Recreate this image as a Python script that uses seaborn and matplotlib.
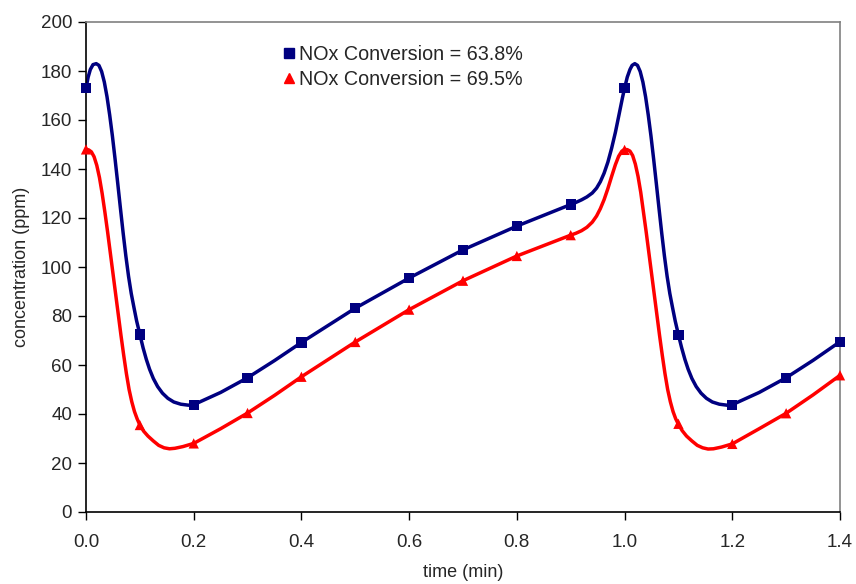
import matplotlib
matplotlib.use("Agg")
import matplotlib.pyplot as plt
from matplotlib.lines import Line2D
import numpy as np
import pandas as pd
import seaborn as sns

# Sampled time points (min) with measured concentration markers
t_marks = [0.0, 0.1, 0.2, 0.3, 0.4, 0.5, 0.6, 0.7, 0.8, 0.9, 1.0, 1.1, 1.2, 1.3, 1.4]
nox_638_marks = [173, 72.5, 43.8, 54.8, 69.2, 83.2, 95.5, 107, 116.7, 125.5,
                 173, 72.3, 43.8, 54.8, 69.5]
nox_695_marks = [148, 35.5, 28, 40.4, 55.2, 69.4, 82.6, 94.4, 104.5, 113,
                 147.8, 36, 27.8, 40.3, 55.8]

# Continuous concentration traces
t_638 = [0.000, 0.004, 0.008, 0.013, 0.019, 0.024, 0.029, 0.034, 0.039, 0.044,
         0.049, 0.054, 0.059, 0.064, 0.069, 0.074, 0.079, 0.084, 0.089, 0.094,
         0.100, 0.106, 0.112, 0.118, 0.125, 0.133, 0.142, 0.152, 0.163, 0.176,
         0.190, 0.200, 0.250, 0.300, 0.350, 0.400, 0.500, 0.600, 0.700, 0.800,
         0.900, 0.910, 0.920, 0.930, 0.940, 0.948, 0.955, 0.962, 0.969, 0.976,
         0.983, 0.990, 0.996, 1.000, 1.005, 1.010, 1.014, 1.019, 1.024, 1.029,
         1.034, 1.039, 1.044, 1.049, 1.054, 1.059, 1.064, 1.069, 1.074, 1.079,
         1.084, 1.089, 1.094, 1.100, 1.106, 1.112, 1.118, 1.125, 1.133, 1.142,
         1.152, 1.163, 1.176, 1.190, 1.200, 1.250, 1.300, 1.350, 1.400]
c_638 = [173, 177.5, 180.6, 182.6, 183, 182.3, 179.8, 175.5, 169.5, 162,
         153.5, 144, 134, 123.8, 113.8, 104.5, 96.2, 89.2, 83.5, 78,
         72.5, 67, 62.3, 58.3, 54.5, 51.2, 48.5, 46.4, 44.9, 44,
         43.6, 43.8, 48.8, 54.8, 61.8, 69.2, 83.2, 95.5, 107, 116.7,
         125.5, 126.4, 127.4, 128.6, 130.2, 132.2, 134.8, 138.3, 142.8, 148.5,
         155, 162.5, 169, 173, 177.5, 180.6, 182.3, 183, 182.3, 179.8,
         175.5, 169.5, 162, 153.5, 144, 134, 123.8, 113.8, 104.5, 96.2,
         89.2, 83.5, 78, 72.3, 67, 62.3, 58.3, 54.5, 51.2, 48.5,
         46.4, 44.9, 44, 43.6, 43.8, 48.8, 54.8, 61.9, 69.5]

t_695 = [0.000, 0.005, 0.010, 0.015, 0.020, 0.025, 0.030, 0.035, 0.040, 0.045,
         0.050, 0.055, 0.060, 0.065, 0.070, 0.075, 0.080, 0.085, 0.090, 0.095,
         0.100, 0.107, 0.115, 0.125, 0.135, 0.145, 0.155, 0.165, 0.180, 0.200,
         0.250, 0.300, 0.350, 0.400, 0.500, 0.600, 0.700, 0.800, 0.900, 0.910,
         0.920, 0.930, 0.940, 0.948, 0.955, 0.962, 0.969, 0.976, 0.983, 0.989,
         0.995, 1.000, 1.005, 1.010, 1.015, 1.020, 1.025, 1.030, 1.035, 1.040,
         1.045, 1.050, 1.055, 1.060, 1.065, 1.070, 1.075, 1.080, 1.085, 1.090,
         1.095, 1.100, 1.107, 1.115, 1.125, 1.135, 1.145, 1.155, 1.165, 1.180,
         1.200, 1.250, 1.300, 1.350, 1.400]
c_695 = [148, 147.8, 147, 145, 141.5, 136.5, 130, 122.5, 114.5, 106,
         97.5, 89, 80.5, 72, 64, 56.5, 50, 45, 41, 38,
         35.5, 33, 31, 29, 27.2, 26.2, 25.8, 26, 26.7, 28,
         34, 40.4, 47.6, 55.2, 69.4, 82.6, 94.4, 104.5, 113, 113.8,
         114.8, 116.2, 118.3, 120.8, 123.8, 127.5, 132, 137, 141.8, 145.2,
         147.3, 148, 147.9, 147.3, 145.5, 142, 137, 130.5, 122.5, 114.5,
         106, 97.5, 89, 80.5, 72, 64, 56.5, 50, 45, 41,
         38, 35.8, 33.2, 31, 29, 27.2, 26.2, 25.7, 25.8, 26.5,
         27.8, 34, 40.3, 47.8, 55.8]

label_638 = "NOx Conversion = 63.8%"
label_695 = "NOx Conversion = 69.5%"
navy = "#000080"
red = "#FF0000"

sns.set_style("white")
plt.rcParams["font.family"] = ["Liberation Sans", "DejaVu Sans"]

fig = plt.figure(figsize=(8.56, 5.84), dpi=100)
ax = fig.add_axes([86 / 856, 72 / 584, 754 / 856, 490 / 584])

curves = pd.concat([
    pd.DataFrame({"time": t_638, "conc": c_638, "series": label_638}),
    pd.DataFrame({"time": t_695, "conc": c_695, "series": label_695}),
])
marks = pd.concat([
    pd.DataFrame({"time": t_marks, "conc": nox_638_marks, "series": label_638}),
    pd.DataFrame({"time": t_marks, "conc": nox_695_marks, "series": label_695}),
])
palette = {label_638: navy, label_695: red}

sns.lineplot(data=curves, x="time", y="conc", hue="series", palette=palette,
             sort=False, estimator=None, linewidth=2.5, legend=False, ax=ax,
             zorder=2, solid_joinstyle="round", solid_capstyle="round")
sns.scatterplot(data=marks, x="time", y="conc", hue="series", palette=palette,
                style="series", markers={label_638: "s", label_695: "^"},
                s=55, linewidth=0, legend=False, ax=ax, zorder=3, clip_on=False)

ax.set_xlim(0, 1.4)
ax.set_ylim(0, 200)
ax.set_xticks(np.arange(0, 1.41, 0.2))
ax.set_xticklabels([f"{v:.1f}" for v in np.arange(0, 1.41, 0.2)])
ax.set_yticks(np.arange(0, 201, 20))
ax.set_xlabel("time (min)", fontsize=13)
ax.set_ylabel("concentration (ppm)", fontsize=13)
ax.tick_params(axis="both", labelsize=13.5, direction="out", length=6,
               width=1, color="black", left=True, bottom=True)
ax.tick_params(axis="x", pad=10)
ax.tick_params(axis="y", pad=4)
ax.xaxis.labelpad = 9
ax.yaxis.labelpad = 8

for side in ("left", "bottom"):
    ax.spines[side].set_color("black")
    ax.spines[side].set_linewidth(1.2)
for side in ("top", "right"):
    ax.spines[side].set_color("#808080")
    ax.spines[side].set_linewidth(1.2)

handles = [
    Line2D([], [], linestyle="none", marker="s", color=navy, markersize=7),
    Line2D([], [], linestyle="none", marker="^", color=red, markersize=7),
]
ax.legend(handles, [label_638, label_695], loc="upper left",
          bbox_to_anchor=(0.2515, 0.969), frameon=False, fontsize=14.2,
          handlelength=0.55, handletextpad=0.25, labelspacing=0.32,
          borderaxespad=0)

fig.savefig("out.png", dpi=100)
